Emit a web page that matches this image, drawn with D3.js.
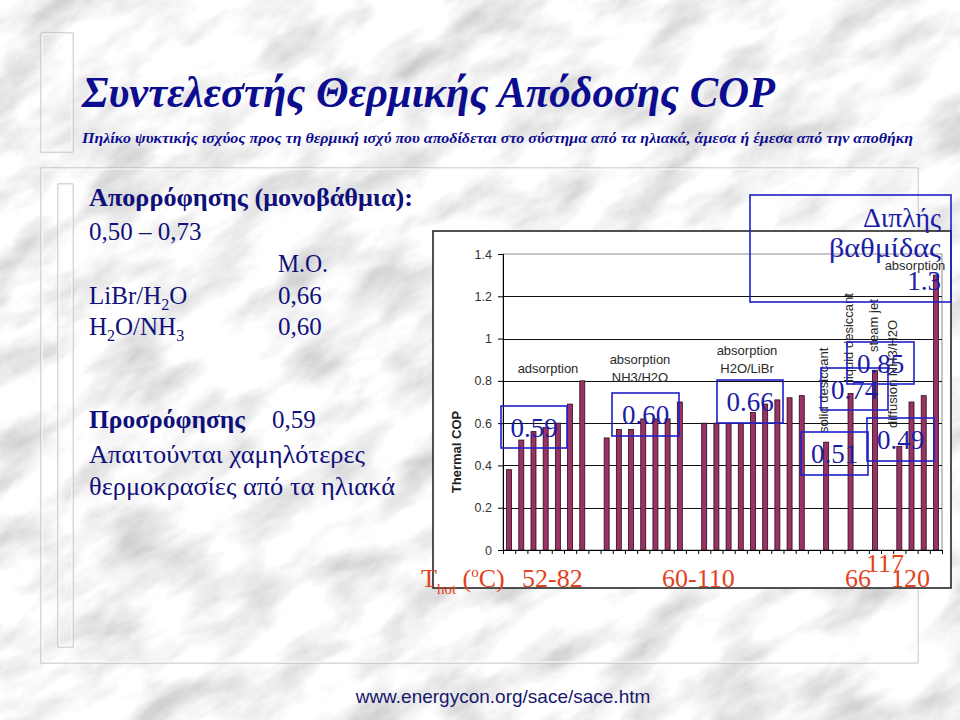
<!DOCTYPE html>
<html><head><meta charset="utf-8">
<script src="https://cdn.jsdelivr.net/npm/d3@7"></script>
<style>body{margin:0;background:#ddd}svg{display:block}</style>
</head><body>
<svg id="c" width="960" height="720"></svg>
<script>
// ---------------- data ----------------
const slots = d3.range(36).map(String); // category slots (gaps are empty slots)
const cop = [0.38,0.52,0.56,0.58,0.60,0.69,0.80,null,
             0.53,0.57,0.57,0.62,0.62,0.62,0.70,null,
             0.60,0.60,0.60,0.60,0.65,0.69,0.71,0.72,0.73,null,
             0.51,null,0.74,null,0.85,null,0.49,0.70,0.73,1.30];
const yTicks = [0,0.2,0.4,0.6,0.8,1,1.2,1.4];
const yTickLabels = ["0","0.2","0.4","0.6","0.8","1","1.2","1.4"];
const groupLabels = [["adsorption"],["absorption","NH3/H2O"],["absorption","H2O/LiBr"]];
const rotLabels = ["solid desiccant","liquid desiccant","steam jet","diffusion NH3/H2O"];
const topLabel = "absorption";
const boxValues = ["0.59","0.60","0.66","0.51","0.74","0.85","0.49"];
const doubleStage = ["Διπλής","βαθμίδας","1.3"];
const tempLabels = ["52-82","60-110","66","117","120"];
const yTitle = "Thermal COP";
const title = "Συντελεστής Θερμικής Απόδοσης COP";
const subtitle = "Πηλίκο ψυκτικής ισχύος προς τη θερμική ισχύ που αποδίδεται στο σύστημα από τα ηλιακά, άμεσα ή έμεσα από την αποθήκη";
const footer = "www.energycon.org/sace/sace.htm";

// ---------------- drawing ----------------
const svg = d3.select("#c");
const defs = svg.append("defs");
const f = defs.append("filter").attr("id","marble").attr("x",0).attr("y",0).attr("width",1).attr("height",1);
f.append("feTurbulence").attr("type","fractalNoise").attr("baseFrequency","0.012 0.026").attr("numOctaves",5).attr("seed",11);
f.append("feColorMatrix").attr("type","matrix")
 .attr("values","0.85 0 0 0 0.5  0.85 0 0 0 0.5  0.85 0 0 0 0.51  0 0 0 0 1");
svg.append("rect").attr("width",960).attr("height",720).attr("fill","#e6e6e6");
svg.append("g").attr("transform","translate(480,360) rotate(-32)")
 .append("rect").attr("x",-800).attr("y",-800).attr("width",1600).attr("height",1600)
 .attr("filter","url(#marble)");

// slide decorations
const deco = svg.append("g").attr("fill","none");
[[41,33,32,119],[41,168,877,495],[58,184,15,463]].forEach(r=>{
  deco.append("rect").attr("x",r[0]).attr("y",r[1]).attr("width",r[2]).attr("height",r[3])
    .attr("stroke","#b4b4b4").attr("stroke-width",1);
  deco.append("rect").attr("x",r[0]+1).attr("y",r[1]+1).attr("width",r[2]-2).attr("height",r[3]-2)
    .attr("stroke","#fafafa").attr("stroke-width",1.2);
});

const serif = "'Liberation Serif','Times New Roman',serif";
const sans = "'Liberation Sans',Arial,sans-serif";
svg.append("text").attr("x",82).attr("y",107).attr("font-family",serif).attr("font-size",44)
  .attr("font-weight","bold").attr("font-style","italic").attr("fill","#0c0c8e")
  .attr("textLength",693).attr("lengthAdjust","spacingAndGlyphs").text(title);
svg.append("text").attr("x",82).attr("y",143).attr("font-family",serif).attr("font-size",14.5)
  .attr("font-weight","bold").attr("font-style","italic").attr("fill","#0c0c8e")
  .attr("textLength",831).attr("lengthAdjust","spacingAndGlyphs").text(subtitle);

// left text block
const lt = svg.append("g").attr("font-family",serif).attr("font-size",25).attr("fill","#10107a");
lt.append("text").attr("x",89).attr("y",206).attr("font-weight","bold")
  .attr("textLength",324).attr("lengthAdjust","spacingAndGlyphs").text("Απορρόφησης (μονοβάθμια):");
lt.append("text").attr("x",89).attr("y",240).text("0,50 – 0,73");
lt.append("text").attr("x",278).attr("y",272)
  .attr("textLength",50).attr("lengthAdjust","spacingAndGlyphs").text("Μ.Ο.");
const t1 = lt.append("text").attr("x",89).attr("y",304);
t1.append("tspan").text("LiBr/H");
t1.append("tspan").attr("font-size",16).attr("dy",6).text("2");
t1.append("tspan").attr("dy",-6).text("O");
lt.append("text").attr("x",278).attr("y",304).text("0,66");
const t2 = lt.append("text").attr("x",89).attr("y",335);
t2.append("tspan").text("H");
t2.append("tspan").attr("font-size",16).attr("dy",6).text("2");
t2.append("tspan").attr("dy",-6).text("O/NH");
t2.append("tspan").attr("font-size",16).attr("dy",6).text("3");
lt.append("text").attr("x",278).attr("y",335).text("0,60");
lt.append("text").attr("x",89).attr("y",428).attr("font-weight","bold")
  .attr("textLength",156).attr("lengthAdjust","spacingAndGlyphs").text("Προσρόφησης");
lt.append("text").attr("x",272).attr("y",428).text("0,59");
lt.append("text").attr("x",89).attr("y",463)
  .attr("textLength",276).attr("lengthAdjust","spacingAndGlyphs").text("Απαιτούνται χαμηλότερες");
lt.append("text").attr("x",89).attr("y",495)
  .attr("textLength",306).attr("lengthAdjust","spacingAndGlyphs").text("θερμοκρασίες από τα ηλιακά");

// chart frame
svg.append("rect").attr("x",433).attr("y",231).attr("width",518).attr("height",357)
  .attr("fill","#fff").attr("stroke","#262626").attr("stroke-width",1.6);

const x0 = 503, x1 = 942, yb = 550, yt = 254;
const x = d3.scaleBand().domain(slots).range([x0,x1]).paddingInner(0.59).paddingOuter(0.295);
const xl = d3.scaleLinear().domain([0,slots.length]).range([x0,x1]);
const y = d3.scaleLinear().domain([0,1.4]).range([yb,yt]);

const plot = svg.append("g");
plot.append("rect").attr("x",x0).attr("y",yt).attr("width",x1-x0).attr("height",yb-yt)
  .attr("fill","none").attr("stroke","#8c8c8c").attr("stroke-width",1);
plot.append("g").selectAll("line").data(yTicks.filter(v=>v>0 && v<1.4)).join("line")
  .attr("x1",x0).attr("x2",x1).attr("y1",d=>Math.round(y(d))+0.5).attr("y2",d=>Math.round(y(d))+0.5)
  .attr("stroke","#111").attr("stroke-width",1);

plot.append("g").selectAll("rect").data(slots.filter((s,i)=>cop[i]!=null)).join("rect")
  .attr("x",d=>x(d)).attr("width",x.bandwidth())
  .attr("y",d=>y(cop[+d])).attr("height",d=>yb-y(cop[+d]))
  .attr("fill","#993366").attr("stroke","#2a0a18").attr("stroke-width",0.8);

const ya = plot.append("g").attr("transform",`translate(${x0},0)`)
  .call(d3.axisLeft(y).tickValues(yTicks).tickFormat((d,i)=>yTickLabels[i]).tickSize(5).tickPadding(6));
ya.select(".domain").attr("stroke","#000");
ya.selectAll("line").attr("stroke","#000");
ya.selectAll("text").attr("font-family",sans).attr("font-size",12.5).attr("fill","#333");
const xa = plot.append("g").attr("transform",`translate(0,${yb})`)
  .call(d3.axisBottom(xl).tickValues(d3.range(slots.length+1)).tickFormat("").tickSize(4).tickSizeOuter(4));
xa.select(".domain").attr("stroke","#000");
xa.selectAll("line").attr("stroke","#000");

svg.append("text").attr("transform",`translate(461,${(yb+yt)/2+50}) rotate(-90)`)
  .attr("text-anchor","middle").attr("font-family",sans).attr("font-weight","bold")
  .attr("font-size",13).attr("fill","#222").text(yTitle);

const gl = svg.append("g").attr("font-family",sans).attr("font-size",13).attr("fill","#2a2a2a").attr("text-anchor","middle");
const glPos = [[548,373],[640,364],[747,355]];
groupLabels.forEach((lines,i)=>{
  lines.forEach((s,j)=>gl.append("text").attr("x",glPos[i][0]).attr("y",glPos[i][1]+j*17.5).text(s));
});
const rotPos = [[828,433],[853,382],[878,352],[897,428]];
rotLabels.forEach((s,i)=>{
  svg.append("text").attr("transform",`translate(${rotPos[i][0]},${rotPos[i][1]}) rotate(-90)`)
    .attr("font-family",sans).attr("font-size",13).attr("fill","#2a2a2a").text(s);
});
svg.append("text").attr("x",915).attr("y",270).attr("text-anchor","middle")
  .attr("font-family",sans).attr("font-size",13).attr("fill","#2a2a2a").text(topLabel);

const boxes = [[501,406,66,42],[612,393,67,43],[717,380,66,43],[801,432,67,43],[821,368,67,42],[847,342,67,42],[867,418,67,43]];
const bg = svg.append("g");
boxValues.forEach((v,i)=>{
  const b = boxes[i];
  bg.append("rect").attr("x",b[0]).attr("y",b[1]).attr("width",b[2]).attr("height",b[3])
    .attr("fill","none").attr("stroke","#2020c8").attr("stroke-width",1.6);
  bg.append("text").attr("x",b[0]+b[2]/2).attr("y",b[1]+31).attr("text-anchor","middle")
    .attr("font-family",serif).attr("font-size",27).attr("fill","#1c1ca6").text(v);
});
bg.append("rect").attr("x",750).attr("y",195).attr("width",201).attr("height",107)
  .attr("fill","none").attr("stroke","#2020c8").attr("stroke-width",1.6);
const dsW = [78,112,null];
[227,257,290].forEach((yy,i)=>{
  const t = bg.append("text").attr("x",941).attr("y",yy).attr("text-anchor","end")
    .attr("font-family",serif).attr("font-size",27).attr("fill","#1c1ca6").text(doubleStage[i]);
  if (dsW[i]) t.attr("textLength",dsW[i]).attr("lengthAdjust","spacingAndGlyphs");
});

const rg = svg.append("g").attr("font-family",serif).attr("font-size",26).attr("fill","#e3421c");
const th = rg.append("text").attr("x",421).attr("y",587);
th.append("tspan").text("T");
th.append("tspan").attr("font-size",15).attr("dy",7).text("hot");
th.append("tspan").attr("dy",-7).text(" (");
th.append("tspan").attr("font-size",15).attr("dy",-10).text("o");
th.append("tspan").attr("dy",10).text("C)");
const tPos = [[522,587],[662,587],[845,587],[866,572],[891,587]];
tempLabels.forEach((s,i)=>rg.append("text").attr("x",tPos[i][0]).attr("y",tPos[i][1]).text(s));

svg.append("text").attr("x",503).attr("y",703).attr("text-anchor","middle")
  .attr("font-family",sans).attr("font-size",19).attr("fill","#18186a").text(footer);
</script>
</body></html>
